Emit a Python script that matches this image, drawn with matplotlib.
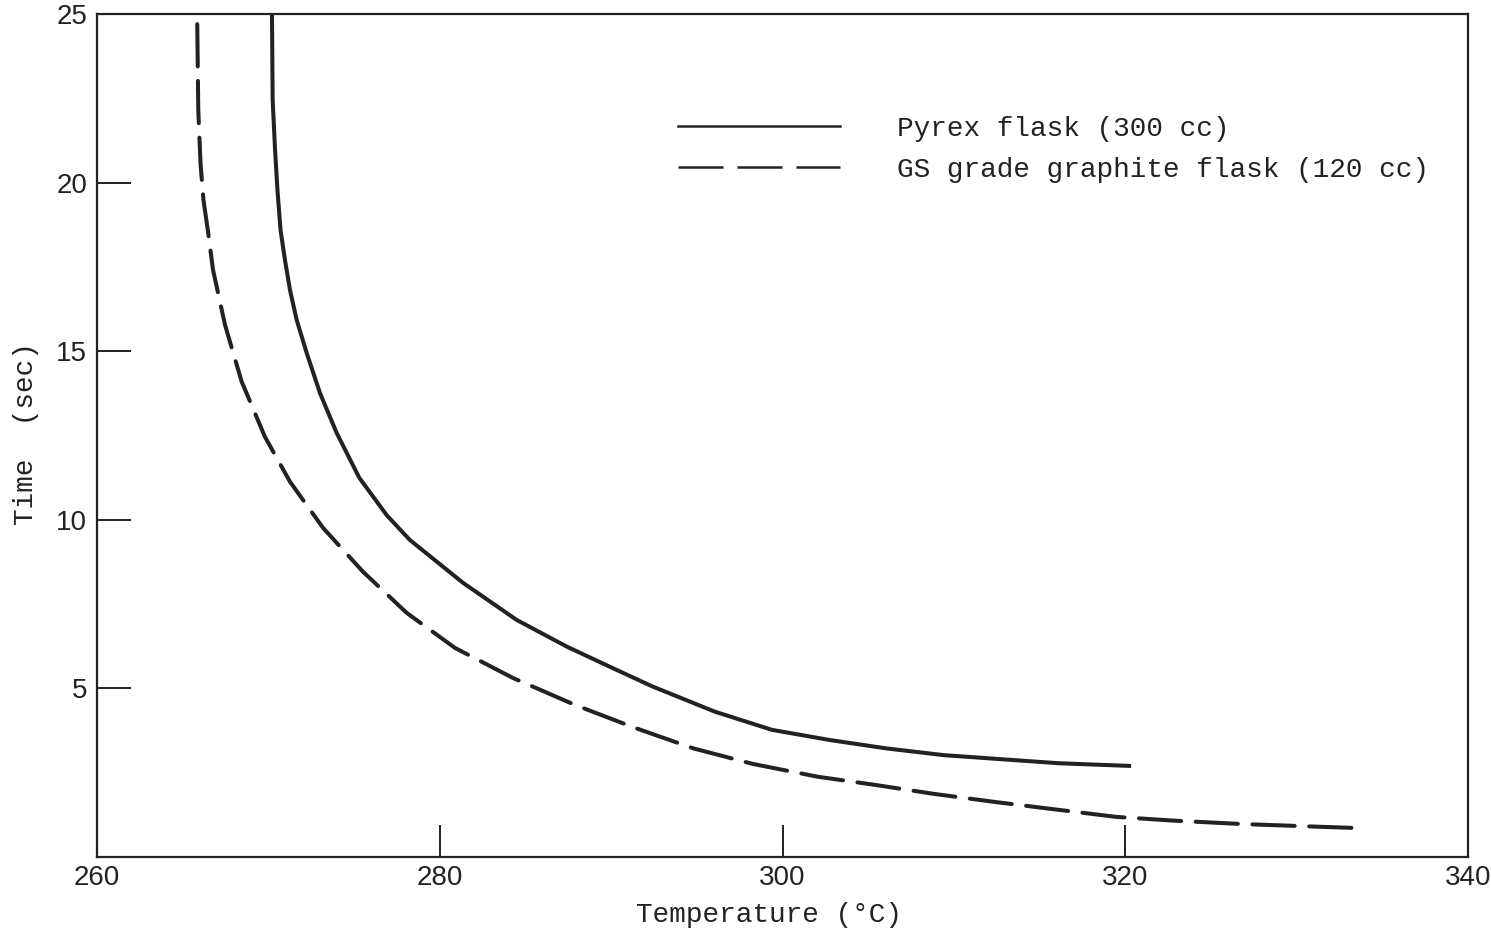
#!/usr/bin/env python
"""
Time vs temperature curves for two flask types
"""

import matplotlib

matplotlib.use("Agg")
import matplotlib.pyplot as plt
from matplotlib.lines import Line2D

INK = "#222222"
MONO = ["Liberation Mono", "DejaVu Sans Mono"]
SANS = ["Liberation Sans", "DejaVu Sans"]

# Pyrex flask (300 cc)
pyrex_temp = [270.21, 270.25, 270.39, 270.53, 270.71, 270.97, 271.26, 271.65,
              272.24, 273.01, 273.99, 275.30, 276.90, 278.26, 281.36, 284.49,
              287.41, 290.10, 292.40, 296.05, 299.39, 302.75, 306.07, 309.42,
              316.13, 320.34]
pyrex_time = [25.0, 22.45, 20.97, 19.78, 18.59, 17.70, 16.82, 15.93,
              14.94, 13.76, 12.57, 11.25, 10.14, 9.40, 8.13, 7.03,
              6.24, 5.60, 5.06, 4.31, 3.77, 3.47, 3.22, 3.02,
              2.78, 2.70]

# GS grade graphite flask (120 cc)
graphite_temp = [265.85, 265.91, 266.04, 266.21, 266.48, 266.77, 267.47, 268.44,
                 269.80, 271.26, 273.19, 275.52, 278.07, 280.89, 284.27, 287.89,
                 291.28, 294.81, 298.27, 302.06, 305.51, 308.86, 312.43, 315.77,
                 319.46, 322.79, 326.70, 333.41]
graphite_time = [24.70, 22.15, 20.58, 19.49, 18.54, 17.41, 15.78, 14.10,
                 12.46, 11.13, 9.76, 8.46, 7.24, 6.20, 5.31, 4.51,
                 3.85, 3.22, 2.76, 2.38, 2.13, 1.87, 1.63, 1.42,
                 1.19, 1.08, 0.98, 0.86]

x_ticks = [260, 280, 300, 320, 340]
y_ticks = [5, 10, 15, 20, 25]

labels = ["Pyrex flask (300 cc)", "GS grade graphite flask (120 cc)"]


def main():
    fig = plt.figure(figsize=(14.91, 9.33), dpi=100)
    ax = fig.add_axes([97 / 1491, 76 / 933, 1371 / 1491, 843 / 933])

    ax.plot(pyrex_temp, pyrex_time, color=INK, lw=2.9,
            solid_capstyle="butt", solid_joinstyle="round")
    ax.plot(graphite_temp, graphite_time, color=INK, lw=2.9,
            dashes=(10.5, 3.6), dash_capstyle="round", dash_joinstyle="round")

    ax.set_xlim(260, 340)
    ax.set_ylim(0, 25)
    ax.set_xticks(x_ticks)
    ax.set_yticks(y_ticks)
    ax.set_xticklabels([str(v) for v in x_ticks], fontfamily=SANS, fontsize=20, color=INK)
    ax.set_yticklabels([str(v) for v in y_ticks], fontfamily=SANS, fontsize=20, color=INK)
    ax.tick_params(axis="x", direction="in", length=23, width=1.4, pad=6, colors=INK)
    ax.tick_params(axis="y", direction="in", length=24.5, width=1.4, pad=7, colors=INK)

    for sp in ax.spines.values():
        sp.set_linewidth(1.6)
        sp.set_color(INK)

    ax.set_xlabel("Temperature (°C)", fontfamily=MONO, fontsize=20, color=INK)
    ax.xaxis.set_label_coords(0.4898, -0.053)
    ax.set_ylabel("Time  (sec)", fontfamily=MONO, fontsize=20, color=INK)
    ax.yaxis.set_label_coords(-0.042, 0.502)

    handles = [
        Line2D([], [], color=INK, lw=1.8),
        Line2D([], [], color=INK, lw=1.8, dashes=(18, 5.6)),
    ]
    ax.legend(handles, labels, loc="upper left", bbox_to_anchor=(0.4238, 0.879),
              frameon=False, borderpad=0, borderaxespad=0,
              handlelength=5.83, handletextpad=2.05, labelspacing=0.54,
              prop={"family": MONO, "size": 20}, labelcolor=INK)

    fig.savefig("out.png", dpi=100, facecolor="white")


if __name__ == "__main__":
    main()
